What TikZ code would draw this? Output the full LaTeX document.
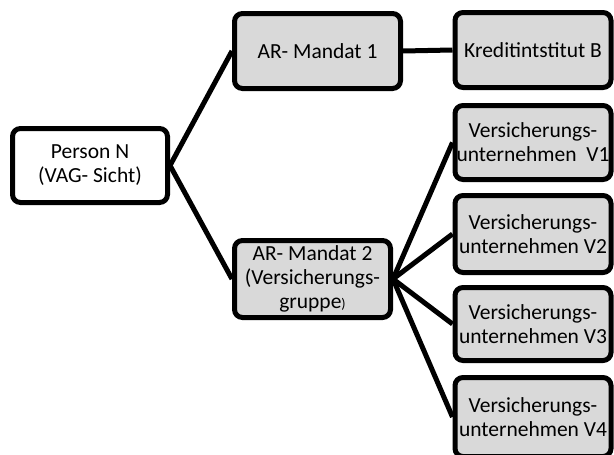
\documentclass[tikz,border=0pt]{standalone}
\usepackage{fontspec}
\setmainfont{Carlito}
\definecolor{boxgray}{HTML}{D9D9D9}
\tikzset{
  box/.style={draw=black, line width=5pt, rounded corners=8pt, fill=boxgray,
    align=center, inner sep=1pt, minimum height=74pt,
    font=\fontsize{21.5}{24}\selectfont},
  wbox/.style={box, fill=white},
  conn/.style={line width=5pt, black},
}
\begin{document}
\begin{tikzpicture}[x=1pt,y=-1pt]
\useasboundingbox (0,0) rectangle (614,455);
\clip (0,0) rectangle (614,455);
\node[wbox, minimum width=155pt] (P) at (90,165.5) {Person N\\(VAG- Sicht)};
\node[box, minimum width=166pt, minimum height=75pt] (M1) at (317.5,51) {AR- Mandat 1};
\node[box, minimum width=156pt, minimum height=75pt] (K) at (533,50) {Kreditintstitut B};
\node[box, minimum width=156pt, minimum height=77pt] (M2) at (312.5,279) {AR- Mandat 2\\(Versicherungs-\\gruppe{\fontsize{14}{16}\selectfont)}};
\node[box, minimum width=156pt] (V1) at (533,142.5) {Versicherungs-\\unternehmen~ V1};
\node[box, minimum width=156pt, minimum height=77pt] (V2) at (533,234) {Versicherungs-\\unternehmen V2};
\node[box, minimum width=156pt, minimum height=73pt] (V3) at (533,324) {Versicherungs-\\unternehmen V3};
\node[box, minimum width=156pt, minimum height=79pt] (V4) at (533,417) {Versicherungs-\\unternehmen V4};
\draw[conn] (P.east) -- (M1.west);
\draw[conn] (P.east) -- (M2.west);
\draw[conn] (M1.east) -- (K.west);
\draw[conn] (M2.east) -- (V1.west);
\draw[conn] (M2.east) -- (V2.west);
\draw[conn] (M2.east) -- (V3.west);
\draw[conn] (M2.east) -- (V4.west);
\end{tikzpicture}
\end{document}
